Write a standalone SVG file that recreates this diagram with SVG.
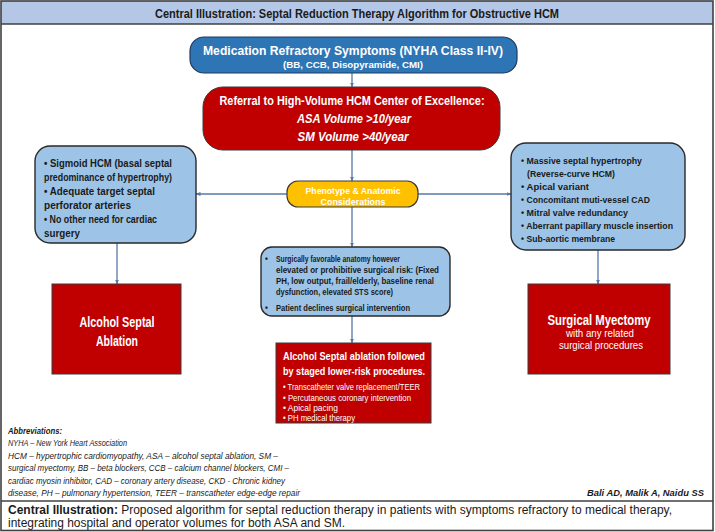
<svg xmlns="http://www.w3.org/2000/svg" width="715" height="532" viewBox="0 0 715 532">
<defs>
<marker id="ah" viewBox="0 0 10 10" refX="9" refY="5" markerWidth="5" markerHeight="5" orient="auto" markerUnits="userSpaceOnUse">
<path d="M0,1 L10,5 L0,9 z" fill="#5778A8"/>
</marker>
<style>
text{font-family:"Liberation Sans",Arial,sans-serif;}
.w{fill:#ffffff;font-weight:bold;}
.k{fill:#1a1a1a;font-weight:bold;}
.c{text-anchor:middle;}
.conn{stroke:#5778A8;stroke-width:1.3;fill:none;marker-end:url(#ah);}
.lb{fill:#9DC3E6;stroke:#2a2a2a;stroke-width:1.4;}
.red{fill:#C00000;stroke:#3a3a3a;stroke-width:1;}
.ab{font-size:8.2px;font-style:italic;fill:#1a1a1a;}
</style>
</defs>
<rect x="0" y="0" width="715" height="532" fill="#ffffff"/>
<rect x="1" y="1" width="712" height="23" fill="#B4C7E7"/>
<rect x="1" y="1" width="712" height="529.5" fill="none" stroke="#404040" stroke-width="1.6"/>
<line x1="1" y1="24" x2="713" y2="24" stroke="#404040" stroke-width="1.4"/>
<line x1="1" y1="501" x2="713" y2="501" stroke="#404040" stroke-width="1.4"/>
<text x="357" y="18" class="k c" font-size="12" textLength="404" lengthAdjust="spacingAndGlyphs">Central Illustration: Septal Reduction Therapy Algorithm for Obstructive HCM</text>

<g id="connectors">
<line class="conn" x1="352" y1="73" x2="352" y2="87"/>
<line class="conn" x1="352" y1="150" x2="352" y2="181"/>
<line class="conn" x1="287" y1="194" x2="196" y2="194"/>
<line class="conn" x1="418" y1="194" x2="511" y2="194"/>
<line class="conn" x1="117" y1="243" x2="117" y2="284"/>
<line class="conn" x1="598" y1="250" x2="598" y2="284"/>
<line class="conn" x1="352" y1="207" x2="352" y2="247"/>
<line class="conn" x1="352" y1="316" x2="352" y2="343"/>
</g>

<g id="medication">
<rect x="190" y="37" width="327" height="36" rx="14" fill="#2E75B6" stroke="#1F3A5F" stroke-width="1.2"/>
<text x="353" y="55" class="w c" font-size="13.5" textLength="300" lengthAdjust="spacingAndGlyphs">Medication Refractory Symptoms (NYHA Class II-IV)</text>
<text x="353" y="68" class="w c" font-size="9.5" textLength="140" lengthAdjust="spacingAndGlyphs">(BB, CCB, Disopyramide, CMI)</text>
</g>

<g id="referral">
<rect x="203" y="87" width="297" height="63" rx="20" class="red"/>
<text x="352" y="105" class="w c" font-size="12.5" textLength="265" lengthAdjust="spacingAndGlyphs">Referral to High-Volume HCM Center of Excellence:</text>
<text x="354" y="123" class="w c" font-size="12.5" font-style="italic" textLength="114" lengthAdjust="spacingAndGlyphs">ASA Volume &gt;10/year</text>
<text x="353" y="141" class="w c" font-size="12.5" font-style="italic" textLength="111" lengthAdjust="spacingAndGlyphs">SM Volume &gt;40/year</text>
</g>

<g id="phenotype">
<rect x="287" y="181" width="131" height="26" rx="11" fill="#FFC000" stroke="#3a3a3a" stroke-width="1.2"/>
<text x="353" y="194" class="w c" font-size="9.5" textLength="95" lengthAdjust="spacingAndGlyphs">Phenotype &amp; Anatomic</text>
<text x="353" y="204.5" class="w c" font-size="9.5" textLength="65" lengthAdjust="spacingAndGlyphs">Considerations</text>
</g>

<g id="asa-criteria">
<rect x="35" y="146" width="161" height="97" rx="15" class="lb"/>
<g class="k" font-size="10">
<text x="44" y="167" textLength="128" lengthAdjust="spacingAndGlyphs">• Sigmoid HCM (basal septal</text>
<text x="44" y="180.5" textLength="128" lengthAdjust="spacingAndGlyphs">predominance of hypertrophy)</text>
<text x="44" y="195" textLength="111" lengthAdjust="spacingAndGlyphs">• Adequate target septal</text>
<text x="44" y="208.5" textLength="87" lengthAdjust="spacingAndGlyphs">perforator arteries</text>
<text x="44" y="223" textLength="113" lengthAdjust="spacingAndGlyphs">• No other need for cardiac</text>
<text x="44" y="236.5" textLength="36" lengthAdjust="spacingAndGlyphs">surgery</text>
</g>
</g>

<g id="sm-criteria">
<rect x="511" y="143" width="174" height="107" rx="15" class="lb"/>
<g class="k" font-size="9.5">
<text x="521" y="164" textLength="121" lengthAdjust="spacingAndGlyphs">• Massive septal hypertrophy</text>
<text x="527" y="176.5" textLength="88" lengthAdjust="spacingAndGlyphs">(Reverse-curve HCM)</text>
<text x="521" y="189.5" textLength="68" lengthAdjust="spacingAndGlyphs">• Apical variant</text>
<text x="521" y="202.5" textLength="129" lengthAdjust="spacingAndGlyphs">• Concomitant muti-vessel CAD</text>
<text x="521" y="215.5" textLength="107" lengthAdjust="spacingAndGlyphs">• Mitral valve redundancy</text>
<text x="521" y="228.5" textLength="152" lengthAdjust="spacingAndGlyphs">• Aberrant papillary muscle insertion</text>
<text x="521" y="241.5" textLength="94" lengthAdjust="spacingAndGlyphs">• Sub-aortic membrane</text>
</g>
</g>

<g id="high-risk">
<rect x="261" y="247" width="189" height="69" rx="11" class="lb"/>
<g class="k" font-size="8.2">
<text x="265" y="262">•</text>
<text x="276" y="262" textLength="124" lengthAdjust="spacingAndGlyphs">Surgically favorable anatomy however</text>
<text x="276" y="273" textLength="163" lengthAdjust="spacingAndGlyphs">elevated or prohibitive surgical risk: (Fixed</text>
<text x="276" y="284" textLength="158" lengthAdjust="spacingAndGlyphs">PH, low output, frail/elderly, baseline renal</text>
<text x="276" y="295" textLength="117" lengthAdjust="spacingAndGlyphs">dysfunction, elevated STS score)</text>
<text x="265" y="311">•</text>
<text x="276" y="311" textLength="134" lengthAdjust="spacingAndGlyphs">Patient declines surgical intervention</text>
</g>
</g>

<g id="alcohol-septal-ablation">
<rect x="52" y="284" width="129" height="90" class="red"/>
<text x="117" y="327" class="w c" font-size="14" textLength="75" lengthAdjust="spacingAndGlyphs">Alcohol Septal</text>
<text x="117" y="346" class="w c" font-size="14" textLength="42" lengthAdjust="spacingAndGlyphs">Ablation</text>
</g>

<g id="surgical-myectomy">
<rect x="528" y="284" width="142" height="90" class="red"/>
<text x="599" y="325" class="w c" font-size="14" textLength="103" lengthAdjust="spacingAndGlyphs">Surgical Myectomy</text>
<text x="600" y="337" class="c" fill="#ffffff" font-size="10" textLength="68" lengthAdjust="spacingAndGlyphs">with any related</text>
<text x="601" y="349" class="c" fill="#ffffff" font-size="10" textLength="84" lengthAdjust="spacingAndGlyphs">surgical procedures</text>
</g>

<g id="staged-asa">
<rect x="276" y="343" width="155" height="80" class="red"/>
<text x="283" y="360" class="w" font-size="11" textLength="142" lengthAdjust="spacingAndGlyphs">Alcohol Septal ablation followed</text>
<text x="283" y="375" class="w" font-size="11" textLength="142" lengthAdjust="spacingAndGlyphs">by staged lower-risk procedures.</text>
<g fill="#ffffff" font-size="8.2">
<text x="283" y="390" textLength="137" lengthAdjust="spacingAndGlyphs">• Transcatheter valve replacement/TEER</text>
<text x="283" y="400.5" textLength="128" lengthAdjust="spacingAndGlyphs">• Percutaneous coronary intervention</text>
<text x="283" y="411" textLength="55" lengthAdjust="spacingAndGlyphs">• Apical pacing</text>
<text x="283" y="421" textLength="72" lengthAdjust="spacingAndGlyphs">• PH medical therapy</text>
</g>
</g>

<g id="abbreviations">
<text x="8" y="434" class="ab" font-weight="bold" textLength="54" lengthAdjust="spacingAndGlyphs">Abbreviations:</text>
<text x="8" y="446" class="ab" textLength="119" lengthAdjust="spacingAndGlyphs">NYHA – New York Heart Association</text>
<text x="8" y="458.5" class="ab" textLength="270" lengthAdjust="spacingAndGlyphs">HCM – hypertrophic cardiomyopathy, ASA – alcohol septal ablation, SM –</text>
<text x="8" y="471" class="ab" textLength="281" lengthAdjust="spacingAndGlyphs">surgical myectomy, BB – beta blockers, CCB – calcium channel blockers, CMI –</text>
<text x="8" y="483.5" class="ab" textLength="277" lengthAdjust="spacingAndGlyphs">cardiac myosin inhibitor, CAD – coronary artery disease, CKD - Chronic kidney</text>
<text x="8" y="496" class="ab" textLength="292" lengthAdjust="spacingAndGlyphs">disease, PH – pulmonary hypertension, TEER – transcatheter edge-edge repair</text>
<text x="704" y="496" text-anchor="end" font-size="9.5" font-weight="bold" font-style="italic" fill="#1a1a1a" textLength="117" lengthAdjust="spacingAndGlyphs">Bali AD, Malik A, Naidu SS</text>
</g>

<g id="caption">
<text x="8" y="514" font-size="12" fill="#1a1a1a" textLength="664" lengthAdjust="spacingAndGlyphs"><tspan font-weight="bold">Central Illustration:</tspan> Proposed algorithm for septal reduction therapy in patients with symptoms refractory to medical therapy,</text>
<text x="8" y="526.5" font-size="12" fill="#1a1a1a" textLength="337" lengthAdjust="spacingAndGlyphs">integrating hospital and operator volumes for both ASA and SM.</text>
</g>
</svg>
